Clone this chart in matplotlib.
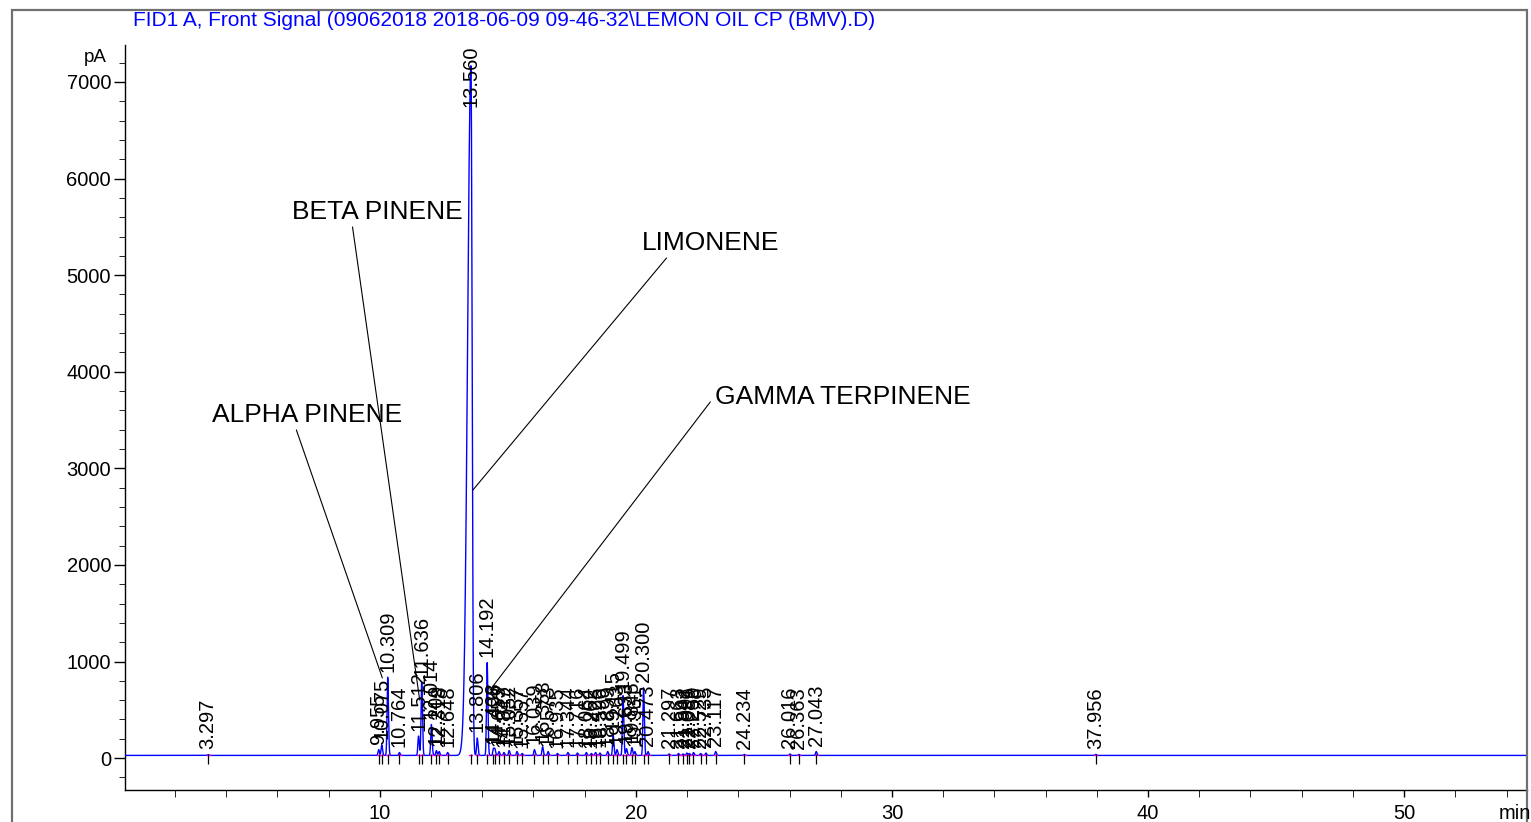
import numpy as np
import matplotlib
matplotlib.use("Agg")
import matplotlib.pyplot as plt
from matplotlib.patches import Rectangle

plt.rcParams['font.family'] = ['Liberation Sans', 'DejaVu Sans']

# peak table: retention time (min), height above baseline (pA)
rt = [3.297, 9.955, 10.075, 10.309, 10.764, 11.512, 11.636, 12.014, 12.209, 12.318,
      12.648, 13.560, 13.806, 14.192, 14.438, 14.496, 14.653, 14.847, 15.052, 15.357,
      15.557, 16.039, 16.358, 16.573, 16.935, 17.344, 17.716, 18.064, 18.262, 18.425,
      18.596, 18.899, 19.115, 19.263, 19.499, 19.633, 19.845, 19.961, 20.300, 20.473,
      21.297, 21.663, 21.842, 21.991, 22.089, 22.250, 22.529, 22.735, 23.117, 24.234,
      26.016, 26.363, 27.043, 37.956]
height = [8, 60, 110, 810, 30, 200, 760, 320, 50, 40,
          30, 7140, 180, 960, 70, 60, 40, 30, 50, 40,
          20, 60, 90, 40, 20, 30, 25, 30, 20, 30,
          25, 40, 210, 60, 620, 70, 80, 40, 700, 40,
          15, 20, 15, 25, 20, 30, 20, 25, 40, 10,
          15, 10, 40, 10]
baseline = 28

# named compounds: label, retention time pointed at, label position, line end height
names = ["ALPHA PINENE", "BETA PINENE", "LIMONENE", "GAMMA TERPINENE"]
name_rt = [10.10, 11.56, 13.63, 14.30]
name_tip_y = [830, 600, 2774, 704]
name_xy = [(7.15, 3551), (9.92, 5652), (22.9, 5331), (28.1, 3737)]
name_rel = [(0.44, 0.0), (0.35, 0.0), (0.2, 0.0), (-0.02, 0.3)]

title = "FID1 A, Front Signal (09062018 2018-06-09 09-46-32\\LEMON OIL CP (BMV).D)"

fig = plt.figure(figsize=(15.31, 8.22), dpi=100)
W, H = 1531, 822
ax = fig.add_axes([125 / W, 1 - 790 / H, (1527 - 125) / W, (790 - 45) / H])

# trace: baseline plus one peak shape per table entry
t = np.arange(0, 55, 0.002)
sig = np.full(t.shape, float(baseline))
for r, h in zip(rt, height):
    if h > 3000:
        sl, sr = 0.13, 0.045
    else:
        sl, sr = 0.025, 0.03
    s = np.where(t < r, sl, sr)
    sig += h * np.exp(-0.5 * ((t - r) / s) ** 2)
ax.plot(t, sig, color=(0, 0, 1), lw=1.0, zorder=3)

# integration baselines and peak markers
for r in rt:
    ax.plot([r - 0.06, r + 0.06], [baseline, baseline], color=(1, 0, 1), lw=1.0, zorder=4)
ax.vlines(rt, baseline - 90, baseline + 15, color='black', lw=0.9, zorder=4)

ymax = 7383
for r, h in zip(rt, height):
    lab = "%.3f" % r
    if h + baseline > 6500:
        ax.text(r, ymax, lab, rotation=90, ha='center', va='top', fontsize=14.5, zorder=5)
    else:
        ax.annotate(lab, (r, h + baseline), xytext=(0, 4), textcoords='offset points',
                    rotation=90, ha='center', va='bottom', fontsize=14.5, zorder=5)

for nm, x, y, pos, rel in zip(names, name_rt, name_tip_y, name_xy, name_rel):
    ax.annotate(nm, xy=(x, y), xytext=pos, ha='center', va='center', fontsize=19,
                arrowprops=dict(arrowstyle='-', color='black', lw=0.8,
                                shrinkA=0, shrinkB=0, relpos=rel), zorder=6)

ax.set_xlim(0.05, 54.8)
ax.set_ylim(-330, ymax)
ax.set_xticks([10, 20, 30, 40, 50])
ax.set_xticks(np.arange(2, 55, 2), minor=True)
ax.set_yticks(np.arange(0, 7001, 1000))
ax.set_yticks(np.arange(-200, 7300, 200), minor=True)
ax.tick_params(axis='both', which='major', direction='out', labelsize=14.5, width=1)
ax.tick_params(axis='y', which='major', length=8, pad=2)
ax.tick_params(axis='y', which='minor', length=4)
ax.tick_params(axis='x', which='both', length=5, pad=5)
for side in ['top', 'right']:
    ax.spines[side].set_visible(False)
for side in ['left', 'bottom']:
    ax.spines[side].set_linewidth(1.0)

fig.text(133 / W, 1 - 20 / H, title, color=(0, 0, 1), fontsize=15, va='center', ha='left')
fig.text(107 / W, 1 - 57 / H, "pA", fontsize=13.5, va='center', ha='right')
fig.text(1531 / W, 1 - 813 / H, "min", fontsize=14.5, va='center', ha='right')

fig.patches.append(Rectangle((12 / W, -0.1), (1527 - 12) / W, 1.1 - 10 / H,
                             transform=fig.transFigure, fill=False,
                             edgecolor='#707070', lw=1.6))

fig.savefig("out.png", dpi=100)
